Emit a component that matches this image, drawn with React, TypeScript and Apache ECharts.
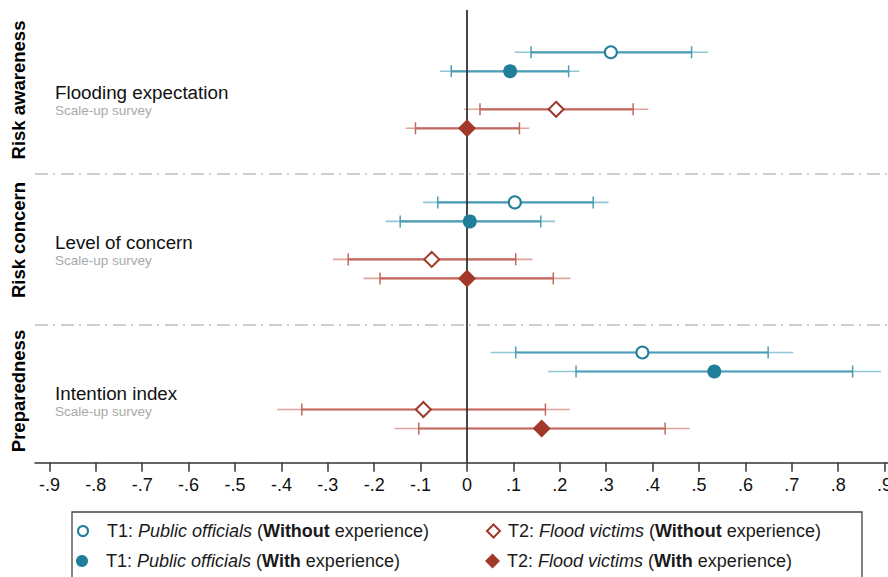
import React, { useEffect, useRef } from "react";
import * as echarts from "echarts";

// ---- data ----
const sections = ["Risk awareness", "Risk concern", "Preparedness"];
const outcomes = ["Flooding expectation", "Level of concern", "Intention index"];
const sources = ["Scale-up survey", "Scale-up survey", "Scale-up survey"];

const seriesNames = [
  "T1: Public officials (Without experience)",
  "T1: Public officials (With experience)",
  "T2: Flood victims (Without experience)",
  "T2: Flood victims (With experience)",
];
// row slot inside each outcome block (0 = top)
const rowSlot = [0, 1, 3, 4];
const blockStep = 7.9;

// point estimates per outcome
const t1WithoutEst = [0.31, 0.103, 0.378];
const t1WithEst = [0.093, 0.006, 0.533];
const t2WithoutEst = [0.192, -0.076, -0.094];
const t2WithEst = [0.0, 0.0, 0.161];

// 95% CI
const t1WithoutLo95 = [0.103, -0.095, 0.051];
const t1WithoutHi95 = [0.52, 0.305, 0.703];
const t1WithLo95 = [-0.058, -0.175, 0.175];
const t1WithHi95 = [0.242, 0.19, 0.892];
const t2WithoutLo95 = [-0.006, -0.289, -0.409];
const t2WithoutHi95 = [0.391, 0.141, 0.222];
const t2WithLo95 = [-0.132, -0.223, -0.156];
const t2WithHi95 = [0.134, 0.223, 0.48];

// 90% CI
const t1WithoutLo90 = [0.138, -0.063, 0.105];
const t1WithoutHi90 = [0.484, 0.272, 0.649];
const t1WithLo90 = [-0.034, -0.144, 0.235];
const t1WithHi90 = [0.219, 0.159, 0.831];
const t2WithoutLo90 = [0.028, -0.256, -0.356];
const t2WithoutHi90 = [0.358, 0.105, 0.169];
const t2WithLo90 = [-0.111, -0.1875, -0.104];
const t2WithHi90 = [0.113, 0.186, 0.427];

const tickValues = [-0.9, -0.8, -0.7, -0.6, -0.5, -0.4, -0.3, -0.2, -0.1, 0, 0.1, 0.2, 0.3, 0.4, 0.5, 0.6, 0.7, 0.8, 0.9];
const tickLabels = ["-.9", "-.8", "-.7", "-.6", "-.5", "-.4", "-.3", "-.2", "-.1", "0", ".1", ".2", ".3", ".4", ".5", ".6", ".7", ".8", ".9"];

// ---- styles ----
const TEAL = "#1f7e99";
const RED = "#a1382a";
const barInner = ["#4c9db5", "#c2685c"];
const barOuter = ["#92c6d5", "#dda59d"];
const FONT = "Liberation Sans, Arial, Helvetica, sans-serif";
const LEGEND_FS = 18;

const ests = [t1WithoutEst, t1WithEst, t2WithoutEst, t2WithEst];
const lo95s = [t1WithoutLo95, t1WithLo95, t2WithoutLo95, t2WithLo95];
const hi95s = [t1WithoutHi95, t1WithHi95, t2WithoutHi95, t2WithHi95];
const lo90s = [t1WithoutLo90, t1WithLo90, t2WithoutLo90, t2WithLo90];
const hi90s = [t1WithoutHi90, t1WithHi90, t2WithoutHi90, t2WithHi90];

const markerDefs = [
  { symbol: "circle", size: 12, hollow: true, color: TEAL, colorIdx: 0 },
  { symbol: "circle", size: 14, hollow: false, color: TEAL, colorIdx: 0 },
  { symbol: "diamond", size: 15, hollow: true, color: RED, colorIdx: 1 },
  { symbol: "diamond", size: 18, hollow: false, color: RED, colorIdx: 1 },
];

function rowY(block: number, s: number) {
  return block * blockStep + rowSlot[s];
}

export default function App() {
  const ref = useRef<HTMLDivElement>(null);
  useEffect(() => {
    if (!ref.current) return;
    const chart = echarts.init(ref.current, undefined, { renderer: "svg" });

    const barData: number[][] = [];
    for (let s = 0; s < 4; s++) {
      for (let b = 0; b < outcomes.length; b++) {
        barData.push([rowY(b, s), lo95s[s][b], hi95s[s][b], lo90s[s][b], hi90s[s][b], markerDefs[s].colorIdx]);
      }
    }

    const scatterSeries = seriesNames.map((name, s) => {
      const m = markerDefs[s];
      return {
        name,
        type: "scatter",
        z: 5,
        symbol: m.symbol,
        symbolSize: m.size,
        itemStyle: m.hollow
          ? { color: "#fff", borderColor: m.color, borderWidth: 2, opacity: 1 }
          : { color: m.color, opacity: 1 },
        data: ests[s].map((v, b) => [v, rowY(b, s)]),
      };
    });

    const legendPos = [
      { left: 77, top: 522 },
      { left: 76, top: 552 },
      { left: 486, top: 522 },
      { left: 485, top: 552 },
    ];
    const legendTextPad = [14, 13, 3, 2];

    const richStyles = {
      i: { fontStyle: "italic", fontSize: LEGEND_FS, color: "#1a1a1a", fontFamily: FONT },
      b: { fontWeight: "bold", fontSize: LEGEND_FS, color: "#1a1a1a", fontFamily: FONT },
    };
    const fmtLegend = (name: string) => {
      const m = name.match(/^(T\d: )(.*) \((With(?:out)?) experience\)$/);
      if (!m) return name;
      return `${m[1]}{i|${m[2]}} ({b|${m[3]}} experience)`;
    };

    const legends = seriesNames.map((name, s) => {
      const m = markerDefs[s];
      const iconSize = m.symbol === "circle" ? (m.hollow ? 10 : 12) : (m.hollow ? 13 : 15);
      return {
        show: true,
        orient: "horizontal",
        left: legendPos[s].left,
        top: legendPos[s].top,
        padding: 0,
        itemWidth: iconSize,
        itemHeight: iconSize,
        selectedMode: false,
        textStyle: {
          fontSize: LEGEND_FS,
          color: "#1a1a1a",
          fontFamily: FONT,
          padding: [0, 0, 0, legendTextPad[s]],
          rich: richStyles,
        },
        formatter: fmtLegend,
        data: [
          {
            name,
            icon: m.symbol,
            itemStyle: m.hollow
              ? { color: "#fff", borderColor: m.color, borderWidth: 2 }
              : { color: m.color, borderWidth: 0 },
          },
        ],
      };
    });

    const graphics: any[] = [];
    const blockCentersPx = [90, 240, 391];
    sections.forEach((t, i) => {
      graphics.push({
        type: "text",
        x: 18.5,
        y: blockCentersPx[i],
        rotation: Math.PI / 2,
        style: {
          text: t,
          fontSize: 18.5,
          fontWeight: "bold",
          fontFamily: FONT,
          fill: "#000",
          align: "center",
          verticalAlign: "middle",
        },
      });
      graphics.push({
        type: "text",
        x: 55,
        y: blockCentersPx[i] + 2,
        style: {
          text: outcomes[i],
          fontSize: 18.8,
          fontFamily: FONT,
          fill: "#111",
          align: "left",
          verticalAlign: "middle",
        },
      });
      graphics.push({
        type: "text",
        x: 55,
        y: blockCentersPx[i] + 20,
        style: {
          text: sources[i],
          fontSize: 13.5,
          fontFamily: FONT,
          fill: "#a9a9a9",
          align: "left",
          verticalAlign: "middle",
        },
      });
    });
    graphics.push({
      type: "rect",
      shape: { x: 72, y: 512, width: 790, height: 90 },
      style: { fill: "none", stroke: "#444", lineWidth: 1.3 },
      z: -1,
    });

    const option: any = {
      animation: false,
      backgroundColor: "#fff",
      textStyle: { fontFamily: FONT },
      grid: { left: 35, right: 0, top: 10, bottom: 114.3, containLabel: false, outerBoundsMode: "none" },
      xAxis: {
        type: "value",
        min: -0.931,
        max: 0.9073,
        splitLine: { show: false },
        axisLine: { show: true, onZero: false, lineStyle: { color: "#333", width: 1.5 } },
        axisTick: { show: true, customValues: tickValues, length: 9, lineStyle: { color: "#333", width: 1.5 } },
        axisLabel: {
          show: true,
          customValues: tickValues,
          margin: 13,
          fontSize: 18,
          color: "#111",
          fontFamily: FONT,
          formatter: (v: number) => {
            let best = 0;
            tickValues.forEach((t, i) => {
              if (Math.abs(t - v) < Math.abs(tickValues[best] - v)) best = i;
            });
            return tickLabels[best];
          },
        },
      },
      yAxis: {
        type: "value",
        inverse: true,
        min: -2.226,
        max: 21.6,
        show: false,
        splitLine: { show: false },
      },
      legend: legends,
      graphic: graphics,
      series: [
        {
          type: "custom",
          name: "ci",
          z: 2,
          encode: { x: [1, 2, 3, 4], y: 0 },
          renderItem: (params: any, api: any) => {
            const y = api.value(0);
            const c = api.value(5);
            const a = api.coord([api.value(1), y]);
            const bpt = api.coord([api.value(2), y]);
            const l90 = api.coord([api.value(3), y]);
            const h90 = api.coord([api.value(4), y]);
            const capH = 6;
            return {
              type: "group",
              children: [
                { type: "line", shape: { x1: a[0], y1: a[1], x2: bpt[0], y2: bpt[1] }, style: { stroke: barOuter[c], lineWidth: 1.6 } },
                { type: "line", shape: { x1: l90[0], y1: l90[1], x2: h90[0], y2: h90[1] }, style: { stroke: barInner[c], lineWidth: 2.2 } },
                { type: "line", shape: { x1: l90[0], y1: l90[1] - capH, x2: l90[0], y2: l90[1] + capH }, style: { stroke: barInner[c], lineWidth: 1.5 } },
                { type: "line", shape: { x1: h90[0], y1: h90[1] - capH, x2: h90[0], y2: h90[1] + capH }, style: { stroke: barInner[c], lineWidth: 1.5 } },
              ],
            };
          },
          data: barData,
          markLine: {
            silent: true,
            symbol: "none",
            label: { show: false },
            data: [
              { xAxis: 0, lineStyle: { color: "#333", width: 1.8, type: "solid" } },
              { yAxis: 6.405, lineStyle: { color: "#cfcfcf", width: 2, type: [13, 5, 2, 6] } },
              { yAxis: 14.35, lineStyle: { color: "#cfcfcf", width: 2, type: [13, 5, 2, 6] } },
            ],
          },
        },
        ...scatterSeries,
      ],
    };
    chart.setOption(option);
    return () => chart.dispose();
  }, []);
  return (
    <div
      ref={ref}
      style={{ position: "absolute", left: 0, top: 0, width: 888, height: 577, background: "#fff" }}
    />
  );
}
